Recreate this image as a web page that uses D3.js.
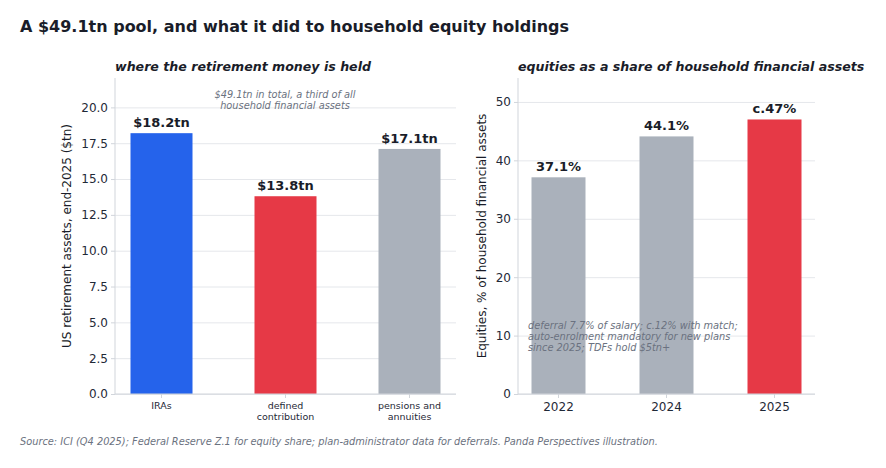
<!DOCTYPE html>
<html>
<head>
<meta charset="utf-8" />
<title>retirement pool</title>
<script src="https://cdn.jsdelivr.net/npm/d3@7/dist/d3.min.js"></script>
<style>
  html, body { margin: 0; padding: 0; background: #fff; }
  svg { display: block; font-family: "DejaVu Sans", sans-serif; }
  .grid line { stroke: #e5e7eb; stroke-width: 1; }
  .grid path { display: none; }
  .axis path, .axis line { stroke: #d1d5db; }
  .axis text { fill: #1f2937; }
  .note { fill: #6b7280; font-style: italic; font-size: 9.8px; }
</style>
</head>
<body>
<svg id="chart" width="886" height="468"></svg>
<script>
// left panel: retirement money by vehicle
const vehicles = ["IRAs", "defined\ncontribution", "pensions and\nannuities"];
const assets = [18.2, 13.8, 17.1];
const assetLabels = ["$18.2tn", "$13.8tn", "$17.1tn"];
const assetTicks = [0, 2.5, 5, 7.5, 10, 12.5, 15, 17.5, 20];

// right panel: equity share of household financial assets
const years = ["2022", "2024", "2025"];
const equityShare = [37.1, 44.1, 47];
const shareLabels = ["37.1%", "44.1%", "c.47%"];
const shareTicks = [0, 10, 20, 30, 40, 50];

const blue = "#2563eb", red = "#e63946", grey = "#aab1bb";
const leftColors = [blue, red, grey];
const rightColors = [grey, grey, red];

const svg = d3.select("#chart");

svg.append("text")
   .attr("x", 20).attr("y", 32)
   .attr("font-size", 16).attr("font-weight", "bold")
   .attr("fill", "#1a1d29")
   .text("A $49.1tn pool, and what it did to household equity holdings");

function panel(opt) {
  const g = svg.append("g");
  const x = d3.scaleBand().domain(opt.cats).range([opt.x0, opt.x1])
              .paddingInner(0.5).paddingOuter(0.125);
  const y = d3.scaleLinear().domain([0, opt.ymax]).range([394, 78]);

  g.append("g").attr("class", "grid")
   .attr("transform", `translate(${opt.x0},0)`)
   .call(d3.axisLeft(y).tickValues(opt.ticks).tickSize(-(opt.x1 - opt.x0)).tickFormat(""));

  g.selectAll("rect.bar").data(opt.values).enter().append("rect")
   .attr("class", "bar")
   .attr("x", (d, i) => x(opt.cats[i]))
   .attr("width", x.bandwidth())
   .attr("y", d => y(d))
   .attr("height", d => y(0) - y(d))
   .attr("fill", (d, i) => opt.colors[i]);

  g.selectAll("text.val").data(opt.values).enter().append("text")
   .attr("class", "val")
   .attr("x", (d, i) => x(opt.cats[i]) + x.bandwidth() / 2)
   .attr("y", d => y(d) - 6)
   .attr("text-anchor", "middle")
   .attr("font-size", 13).attr("font-weight", "bold").attr("fill", "#1a1d29")
   .text((d, i) => opt.labels[i]);

  const ya = g.append("g").attr("class", "axis")
   .attr("transform", `translate(${opt.x0},0)`)
   .call(d3.axisLeft(y).tickValues(opt.ticks).tickSize(4).tickPadding(3).tickFormat(opt.fmt));
  ya.select("path").attr("d", `M0,78V394`);
  ya.selectAll("text").attr("font-size", 12).attr("font-family", "DejaVu Sans");

  const xa = g.append("g").attr("class", "axis")
   .attr("transform", "translate(0,394)")
   .call(d3.axisBottom(x).tickSize(4).tickPadding(4));
  xa.select("path").attr("d", `M${opt.x0},0H${opt.x1}`).attr("stroke-width", 1.2);
  xa.selectAll("line").attr("stroke", "#1f2937");
  xa.selectAll("text").attr("font-size", opt.xfs).attr("font-family", "DejaVu Sans")
    .text(null)
    .each(function(d) {
      const t = d3.select(this);
      d.split("\n").forEach((s, k) => {
        t.append("tspan").attr("x", 0).attr("dy", k ? "1.15em" : "0.71em").text(s);
      });
    });

  svg.append("text")
   .attr("transform", `translate(${opt.ylx},236) rotate(-90)`)
   .attr("text-anchor", "middle")
   .attr("font-size", 12).attr("fill", "#1a1d29")
   .text(opt.ylabel);

  svg.append("text")
   .attr("x", opt.x0).attr("y", 71)
   .attr("font-size", 12.6).attr("font-weight", "bold").attr("font-style", "italic")
   .attr("fill", "#1a1d29")
   .text(opt.title);
  return { x, y };
}

panel({
  cats: vehicles, values: assets, labels: assetLabels, colors: leftColors,
  ticks: assetTicks, ymax: 22.05, x0: 115, x1: 456, xfs: 9.5,
  fmt: d3.format(".1f"), ylx: 71,
  ylabel: "US retirement assets, end-2025 ($tn)",
  title: "where the retirement money is held"
});

panel({
  cats: years, values: equityShare, labels: shareLabels, colors: rightColors,
  ticks: shareTicks, ymax: 54.1, x0: 518, x1: 815, xfs: 12,
  fmt: d3.format("d"), ylx: 486,
  ylabel: "Equities, % of household financial assets",
  title: "equities as a share of household financial assets"
});

// annotations
const note1 = svg.append("text").attr("class", "note").attr("text-anchor", "middle")
   .attr("font-size", 10);
["$49.1tn in total, a third of all", "household financial assets"].forEach((s, i) =>
  note1.append("tspan").attr("x", 285).attr("y", 98 + i * 11).text(s));

const note2 = svg.append("text").attr("class", "note").attr("fill", "#4b5563");
["deferral 7.7% of salary; c.12% with match;", "auto-enrolment mandatory for new plans",
 "since 2025; TDFs hold $5tn+"].forEach((s, i) =>
  note2.append("tspan").attr("x", 528).attr("y", 329 + i * 11).text(s));

svg.append("text")
   .attr("class", "note")
   .attr("x", 20).attr("y", 445)
   .text("Source: ICI (Q4 2025); Federal Reserve Z.1 for equity share; plan-administrator data for deferrals. Panda Perspectives illustration.");
</script>
</body>
</html>
